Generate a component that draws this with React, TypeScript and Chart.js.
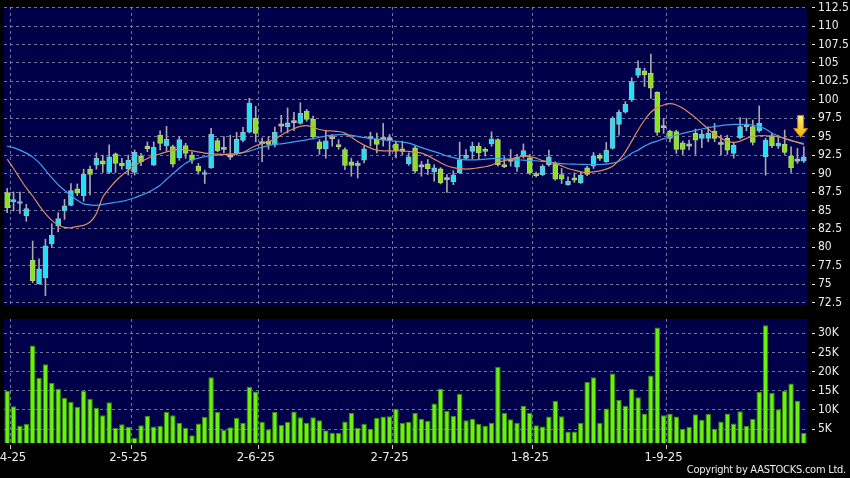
import React, { useEffect, useRef } from "react";
import { Chart, registerables } from "chart.js";

Chart.register(...registerables);

// ---------------- data ----------------
// trading days (HK) per month, 2025
const tradingDays: [number, number[]][] = [
  [4, [1, 2, 3, 7, 8, 9, 10, 11, 14, 15, 16, 17, 22, 23, 24, 25, 28, 29, 30]],
  [5, [2, 6, 7, 8, 9, 12, 13, 14, 15, 16, 19, 20, 21, 22, 23, 26, 27, 28, 29, 30]],
  [6, [2, 3, 4, 5, 6, 9, 10, 11, 12, 13, 16, 17, 18, 19, 20, 23, 24, 25, 26, 27, 30]],
  [7, [2, 3, 4, 7, 8, 9, 10, 11, 14, 15, 16, 17, 18, 21, 22, 23, 24, 25, 28, 29, 30, 31]],
  [8, [1, 4, 5, 6, 7, 8, 11, 12, 13, 14, 15, 18, 19, 20, 21, 22, 25, 26, 27, 28, 29]],
  [9, [1, 2, 3, 4, 5, 8, 9, 10, 11, 12, 15, 16, 17, 18, 19, 22, 23, 24, 25, 26, 29, 30]],
  [10, [2]],
];

const openPrices = [
  87.43, 86.2, 85.95, 84.26, 78.23, 75.04, 75.86, 80.45, 82.9, 84.94,
  85.7, 87.93, 87.0, 90.6, 91.15, 91.74, 90.15, 92.69, 91.38, 90.61,
  90.15, 92.33, 93.74, 91.15, 95.23, 93.78, 93.65, 92.15, 93.78, 92.51,
  91.01, 89.88, 90.79, 94.46, 93.28, 92.24, 92.83, 94.5, 95.6, 97.5,
  94.05, 94.42, 93.87, 96.44, 96.35, 96.9, 96.8, 98.48, 97.35, 94.31,
  93.35, 94.72, 93.94, 93.26, 91.59, 91.1, 91.81, 94.72, 94.72, 94.62,
  94.6, 94.03, 93.35, 91.36, 93.49, 90.91, 91.31, 90.23, 90.63, 89.18,
  88.87, 90.09, 92.04, 93.0, 93.72, 93.1, 94.03, 94.62, 91.1, 91.68,
  90.86, 92.36, 92.13, 90.0, 89.86, 91.22, 91.37, 89.87, 88.51, 89.42,
  88.74, 90.78, 91.0, 92.5, 91.6, 93.41, 96.67, 98.31, 99.98, 103.3,
  103.93, 103.61, 101.03, 96.22, 95.77, 95.68, 94.18, 93.73, 95.45, 94.77,
  94.77, 95.77, 93.95, 94.77, 92.73, 94.86, 96.36, 96.36, 95.77, 92.27,
  95.13, 93.73, 93.95, 92.41, 91.69, 91.69,
];
const highPrices = [
  87.98, 87.5, 87.5, 85.84, 80.86, 78.44, 81.1, 83.2, 84.7, 86.5,
  88.66, 88.6, 90.6, 91.0, 92.8, 92.5, 93.9, 92.8, 92.06, 92.5,
  93.2, 92.74, 94.3, 94.3, 95.8, 96.4, 93.87, 95.0, 94.1, 92.96,
  91.38, 90.47, 96.14, 94.78, 95.0, 95.2, 95.6, 96.28, 100.2, 99.1,
  94.8, 95.0, 96.3, 97.9, 98.9, 98.3, 99.6, 98.7, 97.8, 94.6,
  95.76, 95.3, 94.6, 93.5, 92.1, 91.7, 93.7, 95.62, 95.5, 96.8,
  95.3, 94.4, 94.4, 92.8, 93.72, 91.68, 91.9, 91.2, 90.8, 89.86,
  90.4, 94.26, 93.26, 94.26, 94.17, 93.5, 95.67, 94.7, 92.3, 93.26,
  92.6, 94.03, 92.6, 90.2, 91.2, 93.17, 91.6, 90.69, 89.55, 90.1,
  90.24, 91.0, 92.86, 92.7, 94.22, 97.7, 98.6, 99.76, 103.0, 105.29,
  104.3, 106.2, 101.1, 97.49, 95.9, 95.9, 94.4, 94.54, 96.04, 95.9,
  96.36, 96.8, 95.22, 95.2, 94.1, 97.58, 97.5, 97.26, 99.17, 94.8,
  95.45, 95.2, 95.9, 93.64, 93.41, 93.64,
];
const lowPrices = [
  84.7, 84.94, 84.6, 83.53, 75.2, 75.0, 73.45, 80.0, 82.1, 83.8,
  85.6, 87.0, 86.25, 87.1, 90.6, 90.15, 90.0, 90.15, 90.6, 89.8,
  89.8, 91.06, 92.96, 91.1, 93.2, 93.06, 90.9, 91.8, 92.06, 91.38,
  89.92, 88.66, 90.7, 92.96, 92.8, 91.9, 92.5, 94.3, 95.5, 94.3,
  91.6, 93.3, 93.6, 95.6, 95.5, 95.8, 96.7, 97.1, 94.7, 92.6,
  92.1, 93.72, 93.3, 90.54, 89.64, 89.4, 91.45, 93.72, 92.8, 93.72,
  92.58, 92.13, 92.58, 91.1, 90.1, 89.64, 89.87, 88.96, 88.6, 87.46,
  88.5, 90.0, 91.9, 92.0, 91.9, 92.4, 93.7, 91.0, 90.8, 91.0,
  90.3, 92.1, 89.86, 89.55, 89.7, 91.0, 89.1, 88.65, 88.4, 88.8,
  88.65, 89.7, 90.69, 91.8, 91.5, 93.3, 95.2, 98.2, 99.76, 103.0,
  101.8, 100.2, 95.2, 95.45, 94.3, 92.73, 92.59, 93.2, 92.59, 93.5,
  94.3, 94.3, 92.5, 92.6, 92.1, 94.7, 95.8, 93.86, 95.6, 89.78,
  93.5, 93.4, 92.59, 90.15, 91.37, 91.5,
];
const closePrices = [
  85.35, 86.35, 86.1, 85.26, 75.5, 77.08, 80.2, 81.63, 83.9, 85.62,
  87.7, 87.34, 89.9, 89.9, 92.06, 91.29, 92.28, 91.38, 91.06, 91.83,
  92.87, 91.6, 93.33, 93.55, 94.1, 94.64, 91.29, 94.6, 92.74, 91.83,
  90.33, 90.15, 95.32, 93.06, 93.28, 92.24, 94.64, 95.6, 99.54, 95.46,
  94.05, 93.96, 95.6, 96.44, 96.89, 96.9, 98.16, 97.35, 94.99, 93.35,
  94.44, 94.72, 93.63, 91.09, 91.09, 91.1, 93.35, 94.72, 93.94, 94.62,
  94.6, 93.04, 92.99, 92.27, 90.32, 90.91, 90.68, 90.77, 88.73, 89.18,
  89.82, 91.9, 92.49, 93.72, 92.81, 93.0, 94.72, 91.22, 90.95, 91.68,
  92.22, 93.13, 90.09, 89.73, 90.99, 92.27, 89.24, 89.24, 88.96, 89.1,
  89.78, 89.87, 92.41, 92.05, 93.18, 97.49, 98.31, 99.4, 102.48, 104.29,
  103.39, 101.57, 95.59, 96.22, 94.77, 93.27, 93.27, 93.73, 94.54, 95.31,
  95.45, 94.77, 93.95, 93.18, 93.86, 96.36, 96.72, 94.22, 96.81, 94.54,
  93.77, 94.09, 92.86, 90.78, 91.69, 92.27,
];
// 10-day (orange) and 20-day (blue) moving averages as drawn
const ma10 = [
  91.96, 90.69, 89.33, 88.05, 86.96, 85.7, 84.57, 83.66, 83.07, 82.7,
  82.66, 82.84, 82.98, 83.43, 84.57, 86.83, 87.97, 88.96, 89.78, 90.46,
  91.05, 91.59, 92.05, 92.41, 92.68, 92.95, 93.14, 93.32, 93.22, 93.09,
  92.95, 92.77, 92.68, 92.64, 92.6, 92.6, 92.68, 92.87, 93.32, 93.77,
  94.09, 94.31, 94.7, 95.2, 95.7, 96.1, 96.4, 96.5, 96.31, 95.97,
  95.83, 95.77, 95.7, 95.49, 94.95, 94.34, 93.86, 93.45, 93.18, 93.09,
  93.09, 93.09, 93.09, 93.0, 92.91, 92.77, 92.43, 91.96, 91.48, 91.07,
  90.8, 90.66, 90.6, 90.66, 90.8, 90.93, 91.14, 91.55, 91.75, 91.96,
  92.16, 92.36, 92.3, 92.09, 91.75, 91.6, 91.35, 91.05, 90.69, 90.46,
  90.23, 90.14, 90.23, 90.37, 90.6, 91.0, 91.82, 92.95, 94.4, 95.9,
  97.26, 98.31, 98.94, 99.3, 99.48, 99.3, 98.85, 98.26, 97.58, 96.81,
  96.04, 95.32, 94.77, 94.4, 94.23, 94.4, 94.77, 94.99, 95.13, 95.13,
  95.09, 94.99, 94.77, 94.5, 94.23, 93.96,
];
const ma20 = [
  93.72, 93.52, 93.18, 92.77, 92.23, 91.48, 90.46, 89.44, 88.49, 87.74,
  87.06, 86.38, 85.9, 85.77, 85.7, 85.83, 85.97, 86.11, 86.24, 86.45,
  86.72, 87.06, 87.4, 87.87, 88.42, 89.23, 89.98, 90.73, 91.41, 91.82,
  92.09, 92.3, 92.43, 92.5, 92.57, 92.64, 92.7, 92.84, 93.04, 93.32,
  93.59, 93.79, 94.0, 94.02, 94.16, 94.3, 94.43, 94.58, 94.74, 94.91,
  95.09, 95.19, 95.29, 95.28, 95.19, 95.04, 94.88, 94.77, 94.68, 94.58,
  94.47, 94.36, 94.27, 94.13, 93.86, 93.52, 93.25, 92.98, 92.7, 92.39,
  92.16, 91.96, 91.86, 91.85, 91.89, 91.96, 92.02, 92.05, 91.98, 91.92,
  91.86, 91.82, 91.78, 91.74, 91.65, 91.55, 91.45, 91.35, 91.3, 91.28,
  91.25, 91.23, 91.23, 91.23, 91.28, 91.41, 91.68, 92.16, 92.77, 93.18,
  93.72, 94.13, 94.4, 94.74, 94.97, 95.22, 95.45, 95.66, 95.86, 96.04,
  96.24, 96.37, 96.51, 96.61, 96.67, 96.67, 96.65, 96.58, 96.37, 96.04,
  95.49, 95.09, 94.74, 94.47, 94.27, 94.07,
];
// volume in thousands of shares
const volumeK = [
  15.0, 11.0, 5.9, 6.4, 26.8, 18.3, 21.9, 17.0, 15.5, 13.1,
  12.1, 10.8, 15.0, 12.9, 10.6, 8.6, 12.0, 5.3, 6.3, 5.6,
  2.8, 6.0, 8.5, 5.7, 5.9, 9.5, 8.6, 6.7, 5.4, 3.4,
  6.5, 8.2, 18.5, 9.5, 4.8, 5.5, 8.0, 6.7, 16.0, 14.8,
  6.9, 5.0, 9.5, 6.1, 6.9, 9.6, 8.1, 6.6, 8.1, 7.3,
  4.7, 4.1, 4.0, 7.0, 9.2, 5.3, 6.4, 5.1, 8.0, 8.3,
  8.4, 10.3, 6.6, 6.9, 9.2, 7.7, 7.1, 11.7, 15.5, 9.8,
  8.5, 14.2, 7.3, 7.7, 6.4, 5.9, 6.6, 21.2, 9.3, 7.6,
  6.6, 11.1, 9.3, 6.0, 5.7, 8.3, 12.4, 8.4, 4.4, 4.4,
  6.6, 17.3, 18.5, 6.7, 10.4, 19.5, 12.6, 11.1, 15.5, 13.3,
  9.1, 19.0, 31.5, 8.6, 9.1, 8.3, 5.1, 5.6, 8.9, 7.4,
  9.0, 5.1, 7.0, 9.1, 6.5, 9.7, 5.9, 7.7, 14.7, 32.1,
  14.4, 10.2, 15.0, 16.9, 12.4, 4.0,
];
// marker (yellow arrow): between the last two sessions, tip at this price
const markerIndex = 124.5;
const markerPrice = 94.9;

// ---------------- derived ----------------
const dates = tradingDays.flatMap(([m, ds]) => ds.map((d) => `${d}-${m}-25`));
const monthOf = (s: string) => s.split("-")[1];
const labelIdx = new Set<number>(
  dates
    .map((d, i) => (i === 0 || monthOf(d) !== monthOf(dates[i - 1]) ? i : -1))
    .filter((i) => i >= 0 && i < dates.length - 1)
);

// ---------------- styles ----------------
const FONT = "'DejaVu Sans Condensed', 'DejaVu Sans', sans-serif";
const NAVY = "#00004a";
const GRID = "rgba(135,135,165,0.85)";
const TEXT = "#ececec";
const UP = "#22e2f2";
const UP_EDGE = "#8fb8cc";
const DOWN = "#88e41e";
const DOWN_EDGE = "#b2cf84";
const DOJI = "#b4b4b4";
const WICK = "#a8a8a8";
const ORANGE = "#dd8c5c";
const BLUE = "#3ea2ea";
const VOL = "#6af20e";
const VOL_EDGE = "#3a8c06";

Chart.defaults.font.family = FONT;

const panelBg = {
  id: "panelBg",
  beforeDraw(chart: any) {
    const { ctx, chartArea: a, width, height } = chart;
    ctx.save();
    ctx.fillStyle = "#000";
    ctx.fillRect(0, 0, width, height);
    ctx.fillStyle = NAVY;
    ctx.fillRect(a.left, a.top, a.right - a.left, a.bottom - a.top);
    ctx.restore();
  },
};

const arrowMarker = {
  id: "arrowMarker",
  afterDatasetsDraw(chart: any) {
    const xs = chart.scales.x;
    const ys = chart.scales.y;
    const i0 = Math.floor(markerIndex);
    const i1 = Math.ceil(markerIndex);
    const p0 = xs.getPixelForValue(i0);
    const p1 = xs.getPixelForValue(i1);
    const x = p0 + (p1 - p0) * (markerIndex - i0);
    const tip = ys.getPixelForValue(markerPrice);
    const { ctx } = chart;
    ctx.save();
    const g = ctx.createLinearGradient(0, tip - 22, 0, tip);
    g.addColorStop(0, "#fff27a");
    g.addColorStop(1, "#f2a900");
    ctx.fillStyle = g;
    ctx.strokeStyle = "#b98300";
    ctx.lineWidth = 1;
    ctx.beginPath();
    ctx.moveTo(x - 3, tip - 22);
    ctx.lineTo(x + 3, tip - 22);
    ctx.lineTo(x + 3, tip - 9);
    ctx.lineTo(x + 7, tip - 9);
    ctx.lineTo(x, tip);
    ctx.lineTo(x - 7, tip - 9);
    ctx.lineTo(x - 3, tip - 9);
    ctx.closePath();
    ctx.fill();
    ctx.stroke();
    ctx.restore();
  },
};

const gridColorX = (ctx: any) => (labelIdx.has(ctx.index - 1) ? GRID : "rgba(0,0,0,0)");
const tickColorX = (ctx: any) => (labelIdx.has(ctx.index - 1) ? "#cfcfcf" : "rgba(0,0,0,0)");

const yAxisCommon = (extra: any) => ({
  type: "linear",
  position: "right",
  border: { display: false, dash: [3, 3] },
  grid: {
    color: GRID,
    tickColor: TEXT,
    tickLength: 8,
    tickBorderDash: [3, 5],
    tickBorderDashOffset: 3,
  },
  afterFit: (s: any) => {
    s.width = 43;
    s.paddingTop = 0;
    s.paddingBottom = 0;
  },
  ...extra,
});

export default function App() {
  const priceRef = useRef<HTMLCanvasElement | null>(null);
  const volRef = useRef<HTMLCanvasElement | null>(null);

  useEffect(() => {
    const bodies = openPrices.map((o, i) => [o, closePrices[i]]);
    const wicks = lowPrices.map((l, i) => [l, highPrices[i]]);
    const kind = openPrices.map((o, i) =>
      closePrices[i] > o ? 1 : closePrices[i] < o ? -1 : 0
    );
    const price = new Chart(priceRef.current as HTMLCanvasElement, {
      type: "bar",
      data: {
        labels: dates,
        datasets: [
          {
            type: "line",
            label: "MA10",
            data: ma10,
            borderColor: ORANGE,
            borderWidth: 1.2,
            pointRadius: 0,
            tension: 0.2,
            order: 0,
          } as any,
          {
            type: "line",
            label: "MA20",
            data: ma20,
            borderColor: BLUE,
            borderWidth: 1.2,
            pointRadius: 0,
            tension: 0.2,
            order: 1,
          } as any,
          {
            type: "bar",
            label: "Body",
            data: bodies,
            backgroundColor: kind.map((k) => (k > 0 ? UP : k < 0 ? DOWN : DOJI)),
            borderColor: kind.map((k) => (k > 0 ? UP_EDGE : k < 0 ? DOWN_EDGE : DOJI)),
            borderWidth: kind.map((k) => (k === 0 ? 0 : 1)),
            borderSkipped: false,
            barThickness: 5,
            minBarLength: 2,
            grouped: false,
            order: 2,
          } as any,
          {
            type: "bar",
            label: "Wick",
            data: wicks,
            backgroundColor: WICK,
            barThickness: 1,
            grouped: false,
            order: 3,
          } as any,
        ],
      },
      options: {
        responsive: false,
        animation: false,
        devicePixelRatio: 1,
        layout: { padding: { left: 4, top: 7, right: 0, bottom: 4 } },
        plugins: { legend: { display: false }, tooltip: { enabled: false } },
        scales: {
          x: {
            type: "category",
            offset: true,
            grid: { offset: true, color: gridColorX, drawTicks: false },
            border: { display: false, dash: [3, 3] },
            ticks: { display: false },
            afterFit: (s: any) => {
              s.height = 0;
              s.paddingLeft = 0;
              s.paddingRight = 0;
            },
          },
          y: yAxisCommon({
            min: 72.05,
            max: 112.58,
            ticks: {
              stepSize: 2.5,
              includeBounds: false,
              color: TEXT,
              padding: 3,
              font: { size: 12, family: FONT },
            },
          }),
        },
      } as any,
      plugins: [panelBg, arrowMarker],
    });

    const vol = new Chart(volRef.current as HTMLCanvasElement, {
      type: "bar",
      data: {
        labels: dates,
        datasets: [
          {
            label: "Volume",
            data: volumeK,
            backgroundColor: VOL,
            borderColor: VOL_EDGE,
            borderWidth: 1,
            barPercentage: 0.86,
            categoryPercentage: 1,
          },
        ],
      },
      options: {
        responsive: false,
        animation: false,
        devicePixelRatio: 1,
        layout: { padding: { left: 4, top: 9, right: 0, bottom: 0 } },
        plugins: { legend: { display: false }, tooltip: { enabled: false } },
        scales: {
          x: {
            type: "category",
            offset: true,
            grid: {
              offset: true,
              color: gridColorX,
              tickColor: tickColorX,
              tickLength: 6,
              tickBorderDash: [4, 2],
              tickBorderDashOffset: 4,
            },
            border: { display: false, dash: [3, 3] },
            ticks: {
              autoSkip: false,
              maxRotation: 0,
              minRotation: 0,
              padding: 1,
              color: TEXT,
              font: { size: 13, family: FONT },
              callback: (_v: any, i: number) => (labelIdx.has(i) ? dates[i] : ""),
            },
            afterFit: (s: any) => {
              s.height = 35;
              s.paddingLeft = 0;
              s.paddingRight = 0;
            },
          },
          y: yAxisCommon({
            min: 1.4,
            max: 33.7,
            ticks: {
              stepSize: 5,
              includeBounds: false,
              color: TEXT,
              padding: 3,
              font: { size: 12, family: FONT },
              callback: (v: any) => `${Math.round(Number(v))}K`,
            },
          }),
        },
      } as any,
      plugins: [panelBg],
    });

    return () => {
      price.destroy();
      vol.destroy();
    };
  }, []);

  return (
    <div
      style={{
        position: "fixed",
        left: 0,
        top: 0,
        width: 850,
        height: 478,
        background: "#000",
        overflow: "hidden",
      }}
    >
      <canvas
        ref={priceRef}
        width={850}
        height={310}
        style={{ position: "absolute", left: 0, top: 0, display: "block" }}
      />
      <canvas
        ref={volRef}
        width={850}
        height={168}
        style={{ position: "absolute", left: 0, top: 310, display: "block" }}
      />
      <div
        style={{
          position: "absolute",
          right: 4,
          top: 463,
          color: TEXT,
          font: `11px ${FONT}`,
          lineHeight: "14px",
          letterSpacing: "-0.25px",
          whiteSpace: "nowrap",
        }}
      >
        Copyright by AASTOCKS.com Ltd.
      </div>
    </div>
  );
}
